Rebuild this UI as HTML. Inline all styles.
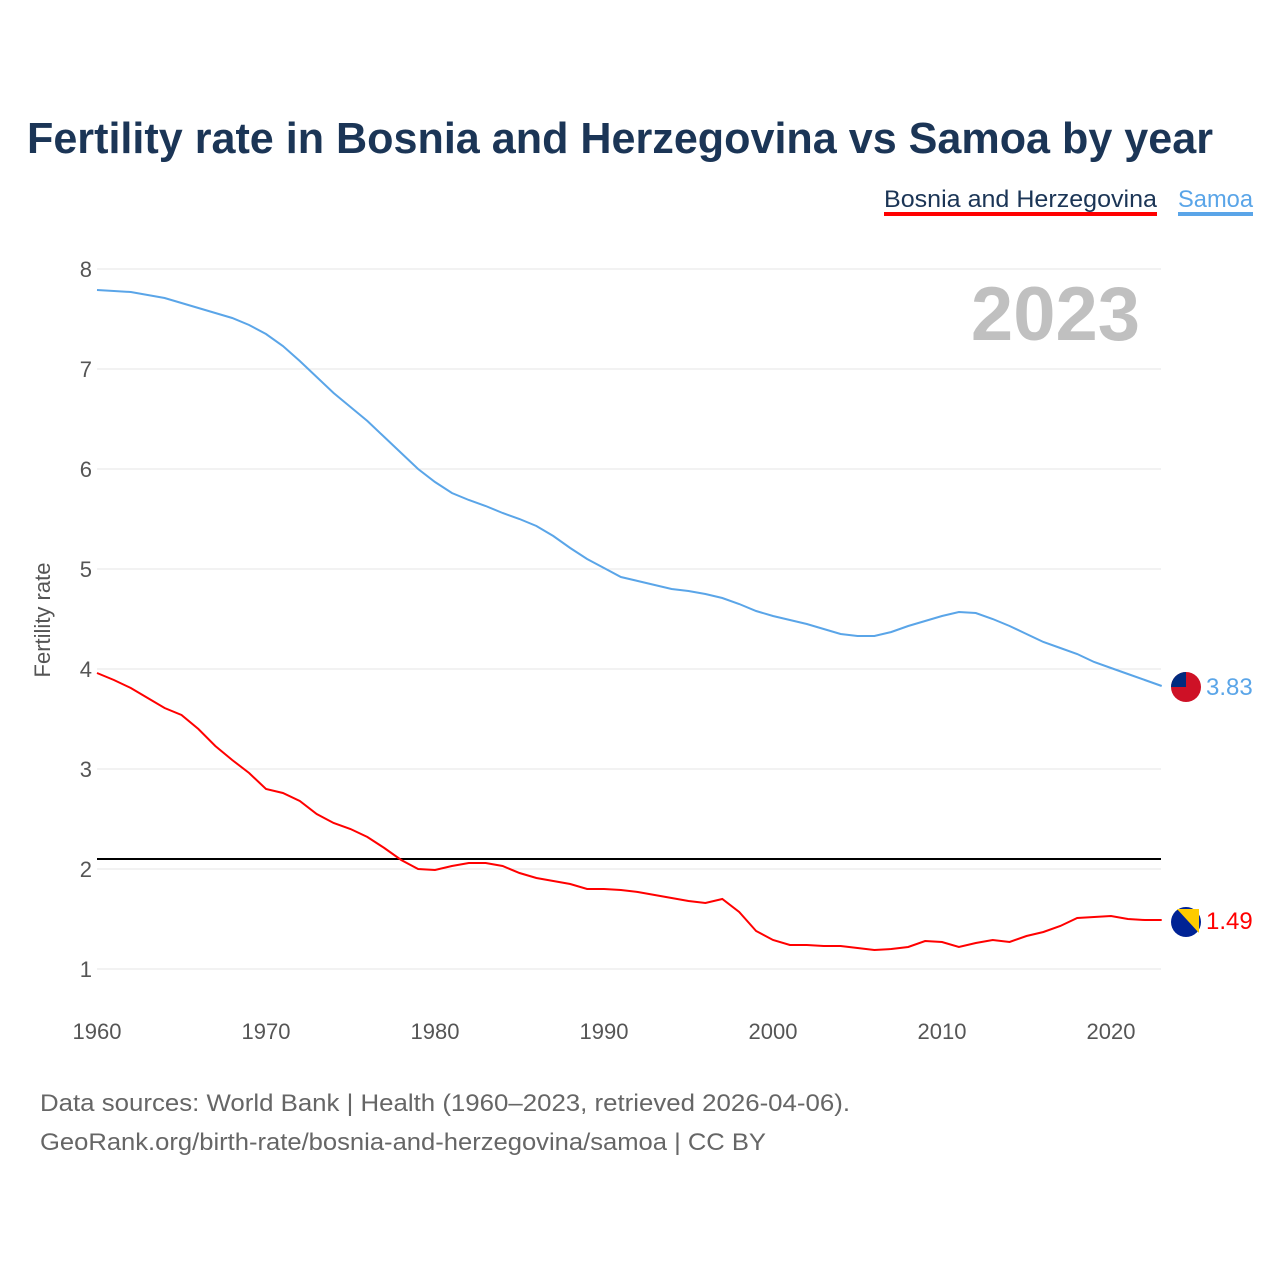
<!DOCTYPE html>
<html><head><meta charset="utf-8">
<style>
body{margin:0;background:#fff;width:1280px;height:1280px;overflow:hidden;font-family:"Liberation Sans",sans-serif;}
</style></head>
<body>
<svg id="chart" width="1280" height="1280" xmlns="http://www.w3.org/2000/svg" font-family="Liberation Sans, sans-serif">
<rect width="1280" height="1280" fill="#fff"/>
<text x="27" y="153" font-size="44" font-weight="bold" fill="#1b3556" textLength="1186" lengthAdjust="spacingAndGlyphs">Fertility rate in Bosnia and Herzegovina vs Samoa by year</text>
<g>
<text x="884" y="207" font-size="24" fill="#1b3556" textLength="273" lengthAdjust="spacingAndGlyphs">Bosnia and Herzegovina</text>
<rect x="884" y="212" width="273" height="4" fill="#ff0000"/>
</g>
<g>
<text x="1178" y="207" font-size="24" fill="#5aa5e8" textLength="75" lengthAdjust="spacingAndGlyphs">Samoa</text>
<rect x="1178" y="212" width="75" height="4" fill="#5aa5e8"/>
</g>
<text x="1140" y="340" text-anchor="end" font-size="76" font-weight="bold" fill="#c0c0c0">2023</text>
<g id="grid"></g>
<g id="yticks"></g>
<g id="xticks"></g>
<text transform="translate(50,620) rotate(-90)" text-anchor="middle" font-size="22" fill="#555">Fertility rate</text>
<g id="series"></g>
<text x="40" y="1111" font-size="24" fill="#666" textLength="810" lengthAdjust="spacingAndGlyphs">Data sources: World Bank | Health (1960–2023, retrieved 2026-04-06).</text>
<text x="40" y="1150" font-size="24" fill="#666" textLength="726" lengthAdjust="spacingAndGlyphs">GeoRank.org/birth-rate/bosnia-and-herzegovina/samoa | CC BY</text>
</svg>
<script>
const years=[];for(let y=1960;y<=2023;y++)years.push(y);
const samoa=[7.79,7.78,7.77,7.74,7.71,7.66,7.61,7.56,7.51,7.44,7.35,7.23,7.08,6.92,6.76,6.62,6.48,6.32,6.16,6.00,5.87,5.76,5.69,5.63,5.56,5.50,5.43,5.33,5.21,5.10,5.01,4.92,4.88,4.84,4.80,4.78,4.75,4.71,4.65,4.58,4.53,4.49,4.45,4.40,4.35,4.33,4.33,4.37,4.43,4.48,4.53,4.57,4.56,4.50,4.43,4.35,4.27,4.21,4.15,4.07,4.01,3.95,3.89,3.83];
const bosnia=[3.96,3.89,3.81,3.71,3.61,3.54,3.40,3.23,3.09,2.96,2.80,2.76,2.68,2.55,2.46,2.40,2.32,2.21,2.09,2.00,1.99,2.03,2.06,2.06,2.03,1.96,1.91,1.88,1.85,1.80,1.80,1.79,1.77,1.74,1.71,1.68,1.66,1.70,1.57,1.38,1.29,1.24,1.24,1.23,1.23,1.21,1.19,1.20,1.22,1.28,1.27,1.22,1.26,1.29,1.27,1.33,1.37,1.43,1.51,1.52,1.53,1.50,1.49,1.49];
const yTicks=[1,2,3,4,5,6,7,8];
const xTicks=[1960,1970,1980,1990,2000,2010,2020];
const replacement=[2.1];
const NS="http://www.w3.org/2000/svg";
const X=y=>97+(y-1960)*(1014/60);
const Y=v=>969-(v-1)*100;
function mk(tag,attrs,parent){const e=document.createElementNS(NS,tag);for(const k in attrs)e.setAttribute(k,attrs[k]);parent.appendChild(e);return e;}
const grid=document.getElementById('grid'),yt=document.getElementById('yticks'),xt=document.getElementById('xticks'),ser=document.getElementById('series');
yTicks.forEach(v=>{
 const l=mk('line',{x1:97,x2:1161,y1:Y(v),y2:Y(v),stroke:'#e6e6e6','stroke-width':1},grid);
 
 
 const t=mk('text',{x:92,y:Y(v)+8,'text-anchor':'end','font-size':22,fill:'#555'},yt);t.textContent=v;
 
 
});
xTicks.forEach(v=>{
 const t=mk('text',{x:X(v),y:1039,'text-anchor':'middle','font-size':22,fill:'#555'},xt);t.textContent=v;
 
 
});
replacement.forEach(v=>{
 const l=mk('line',{x1:97,x2:1161,y1:Y(v),y2:Y(v),stroke:'#000','stroke-width':2},ser);
 
 
});
function line(data,color,name){
 const d=data.map((v,i)=>(i?'L':'M')+X(years[i]).toFixed(1)+','+Y(v).toFixed(1)).join('');
 const p=mk('path',{d:d,fill:'none',stroke:color,'stroke-width':2},ser);
 
 
}
line(samoa,'#5aa5e8','samoa-line');
line(bosnia,'#ff0000','bosnia-line');
const sl=samoa[samoa.length-1],bl=bosnia[bosnia.length-1];
const g1=mk('g',{},ser);


mk('circle',{cx:1186,cy:Y(sl)+1,r:15,fill:'#ce1126'},g1);
mk('path',{d:`M1171,${Y(sl)+1} A15,15 0 0 1 1186,${Y(sl)-14} L1186,${Y(sl)+1} Z`,fill:'#002b7f'},g1);
const t1=mk('text',{x:1206,y:Y(sl)+9,'font-size':24,fill:'#5aa5e8'},g1);t1.textContent=sl.toFixed(2);
const g2=mk('g',{},ser);


mk('circle',{cx:1186,cy:Y(bl)+2,r:15,fill:'#002395'},g2);
mk('path',{d:`M1177,${Y(bl)-11} L1199,${Y(bl)-11} L1199,${Y(bl)+13} Z`,fill:'#fecb00'},g2);
const t2=mk('text',{x:1206,y:Y(bl)+9,'font-size':24,fill:'#ff0000'},g2);t2.textContent=bl.toFixed(2);
</script>
</body></html>
